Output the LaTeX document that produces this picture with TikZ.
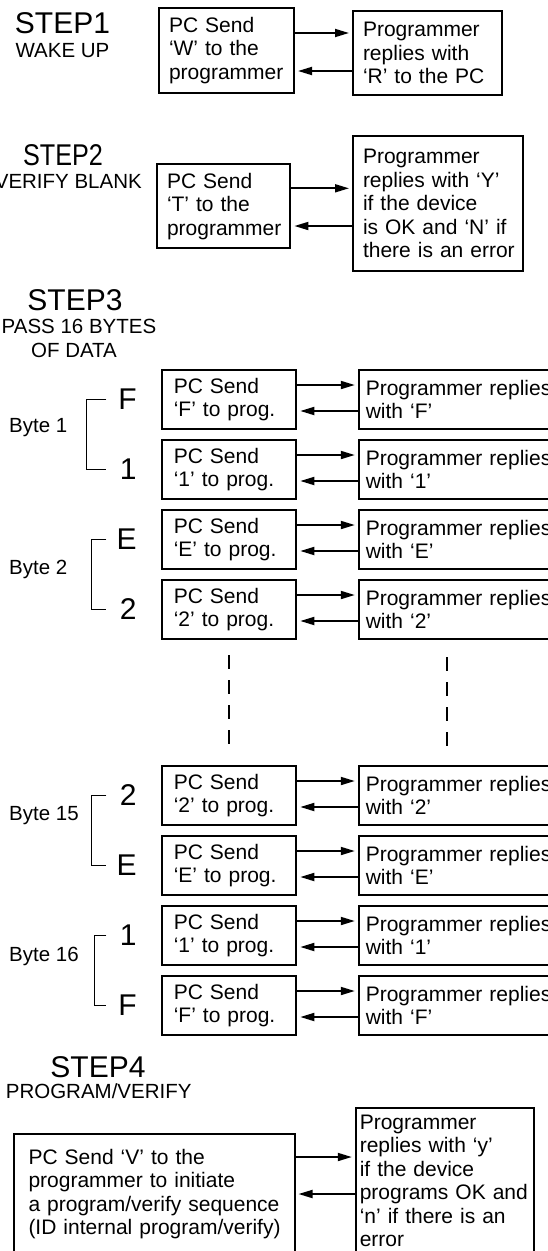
\documentclass[tikz,border=0pt]{standalone}
\usepackage{fontspec}
\setmainfont{Liberation Sans}
\usepackage{tikz}
\usetikzlibrary{arrows.meta,positioning}
\hyphenpenalty=10000
\newcommand{\msgfont}{\fontsize{21pt}{23.5pt}\selectfont}
\newcommand{\steptitlefont}{\fontsize{30pt}{33pt}\selectfont}
\newcommand{\stepsubfont}{\fontsize{20.5pt}{23pt}\selectfont}
\newcommand{\bigcharfont}{\fontsize{30pt}{34pt}\selectfont}
\newcommand{\bytelblfont}{\fontsize{20.5pt}{23pt}\selectfont}
\tikzset{
  sendbox/.style={draw=black, line width=2pt, align=left, font=\msgfont, inner xsep=12pt, inner ysep=3pt, text width=#1},
  sendbox/.default=110.5pt,
  replybox/.style={draw=black, line width=2pt, align=left, font=\msgfont, inner xsep=7pt, inner ysep=3pt, text width=#1},
  replybox/.default=210pt,
  rowbox/.style={minimum height=59pt},
  msgflow/.style={-{Triangle[length=14pt,width=8pt]}, line width=1.8pt, shorten >=3pt},
  steptitle/.style={font=\steptitlefont, inner sep=0pt},
  stepsub/.style={font=\stepsubfont, inner sep=0pt},
  bytechar/.style={font=\bigcharfont, inner sep=2pt, text width=28pt, align=right},
  bytelbl/.style={font=\bytelblfont, inner sep=0pt},
  bytebrace/.style={line width=1.8pt},
  gapline/.style={line width=1.6pt, dash pattern=on 14pt off 11pt},
}

\begin{document}
\begin{tikzpicture}[x=1pt, y=-1pt, node distance=9pt]
\useasboundingbox (0,0) rectangle (548,1251);
% step 1
\node[steptitle, anchor=base] (t1) at (62.5,33) {STEP1};
\node[stepsub, anchor=base] (u1) at (62.5,57) {WAKE UP};
\node[sendbox=115pt, inner xsep=10pt, minimum height=85pt, anchor=north west] (pw) at (158,7) {PC Send\\‘W’ to the\\programmer};
\node[replybox=128.5pt, inner xsep=10pt, minimum height=84pt, anchor=north west] (rw) at (352,10) {Programmer\\replies with\\‘R’ to the PC};
\draw[msgflow] ([yshift=17.5pt]pw.east) -- ([yshift=17.5pt]pw.east -| rw.west);
\draw[msgflow] ([yshift=-20.5pt]pw.east -| rw.west) -- ([yshift=-20.5pt]pw.east);
% step 2
\node[steptitle, anchor=base] (t2) at (63,165) {\scalebox{0.84}[1]{STEP2}};
\node[stepsub, anchor=base east] (u2) at (142,188) {VERIFY BLANK};
\node[sendbox=113.4pt, inner xsep=10pt, minimum height=84pt, anchor=north west] (pt) at (156,163.3) {PC Send\\‘T’ to the\\programmer};
\node[replybox=150pt, inner xsep=10pt, minimum height=135pt, anchor=north west] (rt) at (352,135) {Programmer\\replies~with~‘Y’\\if~the~device\\is~OK~and~‘N’~if\\there~is~an~error};
\draw[msgflow] ([yshift=18pt]pt.east) -- ([yshift=18pt]pt.east -| rt.west);
\draw[msgflow] ([yshift=-19.7pt]pt.east -| rt.west) -- ([yshift=-19.7pt]pt.east);
% step 3
\node[steptitle, anchor=base] (t3) at (75,310) {STEP3};
\node[stepsub, anchor=base east] (u3) at (156.5,333) {PASS 16 BYTES};
\node[stepsub, anchor=base] (v3) at (74,357) {OF DATA};
\node[sendbox, rowbox, anchor=north west] (p1a) at (160.8,369) {PC Send\\‘F’ to prog.};
\node[replybox, rowbox, right=60.5pt of p1a] (r1a) {Programmer replies\\with ‘F’};
\node[sendbox, rowbox, below=of p1a] (p1b) {PC Send\\‘1’ to prog.};
\node[replybox, rowbox, right=60.5pt of p1b] (r1b) {Programmer replies\\with ‘1’};
\node[sendbox, rowbox, below=of p1b] (p2a) {PC Send\\‘E’ to prog.};
\node[replybox, rowbox, right=60.5pt of p2a] (r2a) {Programmer replies\\with ‘E’};
\node[sendbox, rowbox, below=of p2a] (p2b) {PC Send\\‘2’ to prog.};
\node[replybox, rowbox, right=60.5pt of p2b] (r2b) {Programmer replies\\with ‘2’};
\node[sendbox, rowbox, below=125pt of p2b] (p15a) {PC Send\\‘2’ to prog.};
\node[replybox, rowbox, right=60.5pt of p15a] (r15a) {Programmer replies\\with ‘2’};
\node[sendbox, rowbox, below=of p15a] (p15b) {PC Send\\‘E’ to prog.};
\node[replybox, rowbox, right=60.5pt of p15b] (r15b) {Programmer replies\\with ‘E’};
\node[sendbox, rowbox, below=of p15b] (p16a) {PC Send\\‘1’ to prog.};
\node[replybox, rowbox, right=60.5pt of p16a] (r16a) {Programmer replies\\with ‘1’};
\node[sendbox, rowbox, below=of p16a] (p16b) {PC Send\\‘F’ to prog.};
\node[replybox, rowbox, right=60.5pt of p16b] (r16b) {Programmer replies\\with ‘F’};
\draw[msgflow] ([yshift=14.5pt]p1a.east) -- ([yshift=14.5pt]p1a.east -| r1a.west);
\draw[msgflow] ([yshift=-11.5pt]p1a.east -| r1a.west) -- ([yshift=-11.5pt]p1a.east);
\draw[msgflow] ([yshift=14.5pt]p1b.east) -- ([yshift=14.5pt]p1b.east -| r1b.west);
\draw[msgflow] ([yshift=-11.5pt]p1b.east -| r1b.west) -- ([yshift=-11.5pt]p1b.east);
\draw[msgflow] ([yshift=14.5pt]p2a.east) -- ([yshift=14.5pt]p2a.east -| r2a.west);
\draw[msgflow] ([yshift=-11.5pt]p2a.east -| r2a.west) -- ([yshift=-11.5pt]p2a.east);
\draw[msgflow] ([yshift=14.5pt]p2b.east) -- ([yshift=14.5pt]p2b.east -| r2b.west);
\draw[msgflow] ([yshift=-11.5pt]p2b.east -| r2b.west) -- ([yshift=-11.5pt]p2b.east);
\draw[msgflow] ([yshift=14.5pt]p15a.east) -- ([yshift=14.5pt]p15a.east -| r15a.west);
\draw[msgflow] ([yshift=-11.5pt]p15a.east -| r15a.west) -- ([yshift=-11.5pt]p15a.east);
\draw[msgflow] ([yshift=14.5pt]p15b.east) -- ([yshift=14.5pt]p15b.east -| r15b.west);
\draw[msgflow] ([yshift=-11.5pt]p15b.east -| r15b.west) -- ([yshift=-11.5pt]p15b.east);
\draw[msgflow] ([yshift=14.5pt]p16a.east) -- ([yshift=14.5pt]p16a.east -| r16a.west);
\draw[msgflow] ([yshift=-11.5pt]p16a.east -| r16a.west) -- ([yshift=-11.5pt]p16a.east);
\draw[msgflow] ([yshift=14.5pt]p16b.east) -- ([yshift=14.5pt]p16b.east -| r16b.west);
\draw[msgflow] ([yshift=-11.5pt]p16b.east -| r16b.west) -- ([yshift=-11.5pt]p16b.east);
% byte brackets
\node[bytechar, left=22pt of p1a] (c1a) {F};
\node[bytechar, left=22pt of p1b] (c1b) {1};
\node[bytechar, left=22pt of p2a] (c2a) {E};
\node[bytechar, left=22pt of p2b] (c2b) {2};
\node[bytechar, left=22pt of p15a] (c15a) {2};
\node[bytechar, left=22pt of p15b] (c15b) {E};
\node[bytechar, left=22pt of p16a] (c16a) {1};
\node[bytechar, left=22pt of p16b] (c16b) {F};
\draw[bytebrace] (c1a.west) -- ++(-20pt,0) |- (c1b.west);
\draw[bytebrace] (c2a.west) -- ++(-15pt,0) |- (c2b.west);
\draw[bytebrace] (c15a.west) -- ++(-15pt,0) |- (c15b.west);
\draw[bytebrace] (c16a.west) -- ++(-12pt,0) |- (c16b.west);
\node[bytelbl, anchor=west] (b1) at (9,428) {Byte 1};
\node[bytelbl, anchor=west] (b2) at (9,569) {Byte 2};
\node[bytelbl, anchor=west] (b15) at (9,816) {Byte 15};
\node[bytelbl, anchor=west] (b16) at (9,956) {Byte 16};
% gap between byte 2 and byte 15
\coordinate (gapx) at (446.7,0);
\draw[gapline] ([yshift=-15pt]p2b.south) -- ([yshift=14pt]p15a.north);
\draw[gapline] ([yshift=-17pt]p2b.south -| gapx) -- ([yshift=14pt]p15a.north -| gapx);
% step 4
\node[steptitle, anchor=base] (t4) at (98,1077) {STEP4};
\node[stepsub, anchor=base] (u4) at (98.7,1098) {PROGRAM/VERIFY};
\node[sendbox=251pt, minimum height=120pt, inner xsep=15pt, anchor=north west] (pv) at (12.5,1133) {PC Send ‘V’ to the\\programmer to initiate\\a program/verify sequence\\(ID~internal~program/verify)};
\node[replybox=170pt, minimum height=146pt, inner xsep=4pt, anchor=north west] (rv) at (354.8,1107) {Programmer\\replies with ‘y’\\if the device\\programs OK and\\‘n’ if there is an\\error};
\draw[msgflow] ([yshift=37pt]pv.east) -- ([yshift=37pt]pv.east -| rv.west);
\draw[msgflow] (pv.east -| rv.west) -- (pv.east);
\end{tikzpicture}
\end{document}
